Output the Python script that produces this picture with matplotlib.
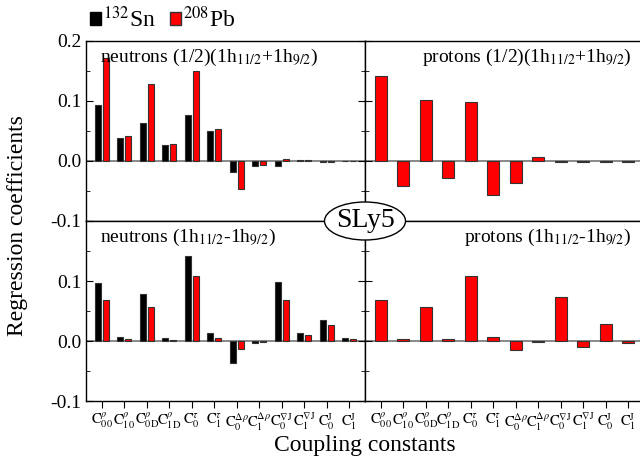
import numpy as np
import matplotlib
matplotlib.use("Agg")
import matplotlib.pyplot as plt
from matplotlib.patches import Patch, Ellipse
from matplotlib.ticker import MultipleLocator

plt.rcParams["font.family"] = "Liberation Serif"
plt.rcParams["mathtext.fontset"] = "stix"

# ---------------------------------------------------------
# donnees
# ---------------------------------------------------------
labels = [r"$\mathrm{C}^{\rho}_{00}$", r"$\mathrm{C}^{\rho}_{10}$",
          r"$\mathrm{C}^{\rho}_{0\mathrm{D}}$", r"$\mathrm{C}^{\rho}_{1\mathrm{D}}$",
          r"$\mathrm{C}^{\tau}_{0}$", r"$\mathrm{C}^{\tau}_{1}$",
          r"$\mathrm{C}^{\Delta\rho}_{0}$", r"$\mathrm{C}^{\Delta\rho}_{1}$",
          r"$\mathrm{C}^{\nabla\mathrm{J}}_{0}$", r"$\mathrm{C}^{\nabla\mathrm{J}}_{1}$",
          r"$\mathrm{C}^{\mathrm{J}}_{0}$", r"$\mathrm{C}^{\mathrm{J}}_{1}$"]

sn_n_sum = [0.093, 0.039, 0.063, 0.027, 0.077, 0.050, -0.019, -0.008, -0.008, 0.001, -0.002, 0.0005]
pb_n_sum = [0.172, 0.042, 0.128, 0.029, 0.150, 0.053, -0.047, -0.006, 0.003, 0.001, -0.001, 0.0005]
pb_p_sum = [0.141, -0.042, 0.101, -0.029, 0.098, -0.056, -0.036, 0.006, -0.001, -0.001, -0.002, -0.001]

sn_n_diff = [0.096, 0.006, 0.079, 0.005, 0.142, 0.013, -0.036, -0.003, 0.098, 0.013, 0.0355, 0.005]
pb_n_diff = [0.068, 0.003, 0.057, 0.002, 0.109, 0.005, -0.013, -0.002, 0.069, 0.0095, 0.027, 0.003]
pb_p_diff = [0.069, 0.003, 0.057, 0.003, 0.108, 0.006, -0.0145, -0.001, 0.073, -0.010, 0.028, -0.004]

titles = [r"neutrons (1/2)(1h$_{11/2}$+1h$_{9/2}$)",
          r"protons (1/2)(1h$_{11/2}$+1h$_{9/2}$)",
          r"neutrons (1h$_{11/2}$-1h$_{9/2}$)",
          r"protons (1h$_{11/2}$-1h$_{9/2}$)"]

RED = "#ff0000"
EDGE = "#333333"

fig = plt.figure(figsize=(6.4, 4.62), dpi=100)

W, H = 640.0, 462.0
left_x, right_x, pw = 86, 365, 279
top_y, mid_y, ph = 41, 221, 180


def make_ax(x0, y0):
    return fig.add_axes([x0 / W, 1 - (y0 + ph) / H, pw / W, ph / H])


axes = [make_ax(left_x, top_y), make_ax(right_x, top_y),
        make_ax(left_x, mid_y), make_ax(right_x, mid_y)]

x = np.arange(len(labels))
bw = 0.27
off = 0.17

for i, ax in enumerate(axes):
    ax.axhline(0, color="gray", lw=1.3, zorder=1)
    if i == 0:
        ax.bar(x - off, sn_n_sum, bw, color="black", edgecolor=EDGE, lw=0.8, zorder=2)
        ax.bar(x + off, pb_n_sum, bw, color=RED, edgecolor=EDGE, lw=0.8, zorder=2)
    elif i == 1:
        ax.bar(x, pb_p_sum, 0.55, color=RED, edgecolor=EDGE, lw=0.8, zorder=2)
    elif i == 2:
        ax.bar(x - off, sn_n_diff, bw, color="black", edgecolor=EDGE, lw=0.8, zorder=2)
        ax.bar(x + off, pb_n_diff, bw, color=RED, edgecolor=EDGE, lw=0.8, zorder=2)
    else:
        ax.bar(x, pb_p_diff, 0.55, color=RED, edgecolor=EDGE, lw=0.8, zorder=2)

    ax.set_xlim(-0.7, 11.7)
    ax.set_ylim(-0.1, 0.2)
    ax.yaxis.set_major_locator(MultipleLocator(0.1))
    ax.yaxis.set_minor_locator(MultipleLocator(0.05))
    ax.tick_params(axis="y", which="both", direction="in", left=True,
                   right=(i % 2 == 0), labelleft=(i % 2 == 0), labelsize=14, length=5)
    ax.tick_params(axis="y", which="minor", length=3)
    ax.tick_params(axis="x", direction="out", length=5, labelsize=10.5, pad=2)
    ax.set_xticks(x)
    if i >= 2:
        ax.set_xticklabels(labels)
    else:
        ax.set_xticklabels([])
    for s in ax.spines.values():
        s.set_linewidth(1.0)

    if i % 2 == 0:
        ax.text(0.05, 0.97, titles[i], transform=ax.transAxes, ha="left", va="top", fontsize=14)
    else:
        ax.text(0.955, 0.97, titles[i], transform=ax.transAxes, ha="right", va="top", fontsize=14)

axes[0].set_yticks([-0.1, 0.0, 0.1, 0.2])
axes[0].set_yticklabels(["-0.1", "0.0", "0.1", "0.2"])
axes[2].set_yticks([-0.1, 0.0, 0.1, 0.2])
axes[2].set_yticklabels(["-0.1", "0.0", "0.1", ""])

fig.text(0.5 * (left_x + right_x + pw) / W, 1 - 445 / H, "Coupling constants",
         ha="center", va="center", fontsize=17)
fig.text(18 / W, 1 - 226 / H, "Regression coefficients", rotation=90,
         ha="center", va="center", fontsize=17)

# legende
handles = [Patch(facecolor="black", edgecolor="black"),
           Patch(facecolor=RED, edgecolor=EDGE)]
fig.legend(handles, [r"$^{132}$Sn", r"$^{208}$Pb"], loc="lower left",
           bbox_to_anchor=(76 / W, 1 - 46 / H), ncol=2, frameon=False,
           fontsize=17, handlelength=0.45, handleheight=0.45,
           handletextpad=0.1, columnspacing=0.6, borderpad=0.1)

# ellipse SLy5
fig.add_artist(Ellipse((365 / W, 1 - 221 / H), 81 / W, 38 / H,
                       transform=fig.transFigure, facecolor="white",
                       edgecolor="black", lw=1.0, zorder=10))
fig.text(365 / W, 1 - 221 / H, "SLy5", ha="center", va="center",
         fontsize=20, zorder=11)

fig.savefig("out.png", dpi=100)
